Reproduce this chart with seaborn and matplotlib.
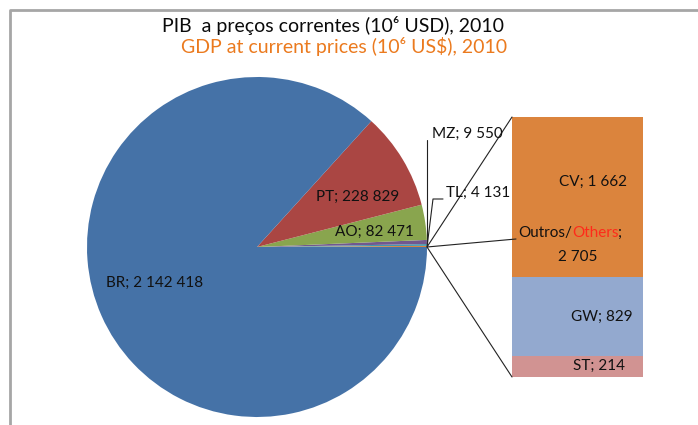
import matplotlib.pyplot as plt
import seaborn as sns
from matplotlib.patches import ConnectionPatch

# pie slices, counter-clockwise from 3 o'clock
pie_labels = ["Outros/Others", "TL", "MZ", "AO", "PT", "BR"]
pie_values = [2705, 4131, 9550, 82471, 228829, 2142418]
pie_colors = ["#DB843D", "#4198AF", "#71588F", "#89A54E", "#AA4643", "#4572A7"]

# breakdown of "Outros/Others", bottom to top
bar_labels = ["ST", "GW", "CV"]
bar_values = [214, 829, 1662]
bar_colors = ["#D19392", "#93A9CF", "#DB843D"]

title_pt = "PIB  a preços correntes (10⁶ USD), 2010"
title_en = "GDP at current prices (10⁶ US$), 2010"


def fmt(v):
    return f"{v:,}".replace(",", " ")


sns.set_theme(style="white")
plt.rcParams["font.family"] = ["Lato", "DejaVu Sans"]

W, H = 698, 425
fig = plt.figure(figsize=(W / 100, H / 100), dpi=100)

# stacked bar for the "others" slice, drawn as overlapping cumulative bars
x0, x1, y0, y1 = 512, 643, 117, 377
ax_bar = fig.add_axes([x0 / W, (H - y1) / H, (x1 - x0) / W, (y1 - y0) / H])
cum = [sum(bar_values[: i + 1]) for i in range(len(bar_values))]
for height, color in reversed(list(zip(cum, bar_colors))):
    sns.barplot(x=["Outros"], y=[height], color=color, saturation=1,
                width=1, linewidth=0, ax=ax_bar)
ax_bar.set_xlim(-0.5, 0.5)
ax_bar.set_ylim(0, cum[-1])
ax_bar.axis("off")
ax_bar.set_zorder(0)

# main axes in pixel units, on top of the bar so its labels show
ax = fig.add_axes([0, 0, 1, 1])
ax.set_zorder(1)
ax.patch.set_visible(False)

# pie (y axis is flipped, so clockwise in data = counter-clockwise on screen)
cx, cy, r = 257, 247, 170
ax.pie(pie_values, colors=pie_colors, startangle=0, counterclock=False,
       center=(cx, cy), radius=r, wedgeprops=dict(linewidth=0))
ax.set_xlim(0, W)
ax.set_ylim(H, 0)
ax.axis("off")

# chart frame (only top and left edges visible)
ax.plot([10, 10, W], [H, 10, 10], color="#A6A6A6", lw=2, clip_on=False)

# titles
ax.text(333, 25, title_pt, ha="center", va="center", fontsize=14,
        color="#0A0A0A")
ax.text(344, 46, title_en, ha="center", va="center", fontsize=14,
        color="#EB7A1E")

# connectors from pie edge to bar corners
apex = (cx + r, cy)
for yb in (cum[-1], 0):
    con = ConnectionPatch(xyA=apex, coordsA=ax.transData, xyB=(-0.5, yb),
                          coordsB=ax_bar.transData, color="#222222", lw=0.8)
    fig.add_artist(con)

# leader lines
ax.plot([apex[0], apex[0]], [apex[1], 140], color="#222222", lw=0.8)
ax.plot([apex[0], 433, 443], [apex[1], 199, 199], color="#222222", lw=0.8)
ax.plot([apex[0], 516], [apex[1], 239], color="#222222", lw=0.8)

# labels
lab = dict(fontsize=11, color="#111111", va="center")
vals = dict(zip(pie_labels, pie_values))
ax.text(155, 283, f"BR; {fmt(vals['BR'])}", ha="center", **lab)
ax.text(358, 197, f"PT; {fmt(vals['PT'])}", ha="center", **lab)
ax.text(374, 232, f"AO; {fmt(vals['AO'])}", ha="center", **lab)
ax.text(432, 134, f"MZ; {fmt(vals['MZ'])}", ha="left", **lab)
ax.text(446, 193, f"TL; {fmt(vals['TL'])}", ha="left", **lab)

bvals = dict(zip(bar_labels, bar_values))
ax.text(593, 182, f"CV; {fmt(bvals['CV'])}", ha="center", **lab)
ax.text(602, 317, f"GW; {fmt(bvals['GW'])}", ha="center", **lab)
ax.text(599, 366, f"ST; {fmt(bvals['ST'])}", ha="center", **lab)

t1 = ax.text(518, 233, "Outros/", ha="left", **lab)
t2 = ax.annotate("Others", xy=(1, 0), xycoords=t1, ha="left", va="bottom",
                 fontsize=11, color="#FF2A1A")
ax.annotate(";", xy=(1, 0), xycoords=t2, ha="left", va="bottom",
            fontsize=11, color="#111111")
ax.text(578, 257, fmt(vals["Outros/Others"]), ha="center", **lab)

fig.savefig("out.png", dpi=100)
